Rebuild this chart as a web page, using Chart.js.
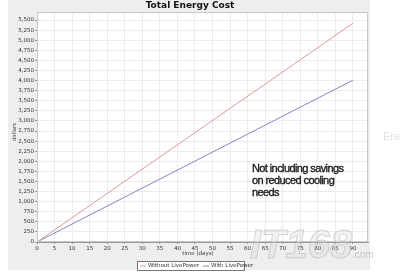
<!DOCTYPE html>
<html>
<head>
<meta charset="utf-8">
<script src="https://cdn.jsdelivr.net/npm/chart.js@4"></script>
<style>
  html, body { margin: 0; padding: 0; background: #fff; }
  #wrap { width: 400px; height: 279px; }
</style>
</head>
<body>
<div id="wrap"><canvas id="chart" width="400" height="279"></canvas></div>
<script>
// ===== Data =====
const days = [0, 90];
const withoutLivePower = [0, 5420];
const withLivePower = [0, 4010];
const seriesLabels = ['Without LivePower', 'With LivePower'];
const seriesColors = ['#dc9c9c', '#8486c6'];
const xTickValues = [0, 5, 10, 15, 20, 25, 30, 35, 40, 45, 50, 55, 60, 65, 70, 75, 80, 85, 90];
const yTickValues = [0, 250, 500, 750, 1000, 1250, 1500, 1750, 2000, 2250, 2500, 2750,
  3000, 3250, 3500, 3750, 4000, 4250, 4500, 4750, 5000, 5250, 5500];
const noteLines = ['Not including savings', 'on reduced cooling', 'needs'];

const toPoints = (ys) => days.map((d, i) => ({ x: d, y: ys[i] }));

// panel background, title, legend box, note and watermark
const decorations = {
  id: 'decorations',
  beforeDraw(chart) {
    const ctx = chart.ctx;
    const a = chart.chartArea;
    ctx.save();
    ctx.fillStyle = '#eeeeee';
    ctx.fillRect(8, 0, 362, 270);
    ctx.fillStyle = '#ffffff';
    ctx.fillRect(a.left, a.top, a.right - a.left, a.bottom - a.top);
    ctx.restore();
  },
  afterDatasetsDraw(chart) {
    const ctx = chart.ctx;
    const a = chart.chartArea;
    ctx.save();
    // plot outline
    ctx.strokeStyle = '#c8c8c8';
    ctx.lineWidth = 1;
    ctx.strokeRect(a.left + 0.5, a.top + 0.5, a.right - a.left - 1, a.bottom - a.top - 1);

    // title
    ctx.fillStyle = '#111';
    ctx.font = 'bold 9px "DejaVu Sans", sans-serif';
    ctx.textAlign = 'center';
    ctx.textBaseline = 'middle';
    ctx.fillText('Total Energy Cost', 190, 6);

    // axis titles
    ctx.font = '5.5px "DejaVu Sans", sans-serif';
    ctx.fillStyle = '#444';
    ctx.fillText('time (days)', 198, 254);
    ctx.save();
    ctx.translate(15, 132);
    ctx.rotate(-Math.PI / 2);
    ctx.fillText('dollars', 0, 0);
    ctx.restore();

    // legend
    ctx.fillStyle = '#fff';
    ctx.fillRect(137, 261, 107, 9);
    ctx.strokeStyle = '#777';
    ctx.strokeRect(137.5, 261.5, 107, 9);
    ctx.textAlign = 'left';
    ctx.font = '5.5px "DejaVu Sans", sans-serif';
    let x = 140;
    seriesLabels.forEach((lab, i) => {
      ctx.strokeStyle = seriesColors[i];
      ctx.beginPath();
      ctx.moveTo(x, 266);
      ctx.lineTo(x + 6, 266);
      ctx.stroke();
      ctx.fillStyle = '#333';
      ctx.fillText(lab, x + 8, 266);
      x += 8 + ctx.measureText(lab).width + 4;
    });

    // watermark
    ctx.fillStyle = 'rgba(215,215,215,0.3)';
    ctx.strokeStyle = 'rgba(180,180,180,0.5)';
    ctx.font = 'italic bold 40px "Liberation Sans", sans-serif';
    ctx.textBaseline = 'alphabetic';
    ctx.fillText('IT168', 250, 258);
    ctx.strokeText('IT168', 250, 258);
    ctx.font = '10px "Liberation Sans", sans-serif';
    ctx.fillStyle = 'rgba(185,185,185,0.8)';
    ctx.fillText('.com', 352, 258);
    ctx.font = '11px "Liberation Sans", sans-serif';
    ctx.fillStyle = '#e2e2e2';
    ctx.fillText('Ene', 383, 140);

    // note
    ctx.fillStyle = '#1a1a1a';
    ctx.strokeStyle = '#1a1a1a';
    ctx.lineWidth = 0.35;
    ctx.font = '11px "Liberation Sans", sans-serif';
    ctx.letterSpacing = '-0.6px';
    ctx.textBaseline = 'top';
    noteLines.forEach((t, i) => {
      ctx.fillText(t, 252, 163 + i * 12);
      ctx.strokeText(t, 252, 163 + i * 12);
    });
    ctx.restore();
  }
};

const fmt = new Intl.NumberFormat('en-US');
const tickFont = { size: 5.5, family: '"DejaVu Sans", sans-serif' };

new Chart(document.getElementById('chart'), {
  type: 'line',
  data: {
    datasets: [
      { label: seriesLabels[0], data: toPoints(withoutLivePower), borderColor: seriesColors[0], borderWidth: 1, pointRadius: 0, tension: 0 },
      { label: seriesLabels[1], data: toPoints(withLivePower), borderColor: seriesColors[1], borderWidth: 1, pointRadius: 0, tension: 0 }
    ]
  },
  options: {
    responsive: false,
    animation: false,
    layout: { padding: { left: 8, right: 32, top: 12, bottom: 21 } },
    plugins: { legend: { display: false }, title: { display: false }, tooltip: { enabled: false } },
    scales: {
      x: {
        type: 'linear',
        min: 0,
        max: 94.3,
        afterBuildTicks: (s) => { s.ticks = xTickValues.map(v => ({ value: v })); },
        afterFit: (s) => { s.height = 16; },
        grid: { color: '#ececec', tickLength: 2, tickColor: '#999' },
        border: { color: '#999' },
        ticks: { maxRotation: 0, autoSkip: false, padding: 1, color: '#333', font: tickFont }
      },
      y: {
        min: 0,
        max: 5700,
        afterBuildTicks: (s) => { s.ticks = yTickValues.map(v => ({ value: v })); },
        afterFit: (s) => { s.width = 29; },
        grid: { color: '#ececec', tickLength: 2, tickColor: '#999' },
        border: { color: '#999' },
        ticks: { autoSkip: false, padding: 1, color: '#333', font: tickFont, callback: (v) => fmt.format(v) }
      }
    }
  },
  plugins: [decorations]
});
</script>
</body>
</html>
